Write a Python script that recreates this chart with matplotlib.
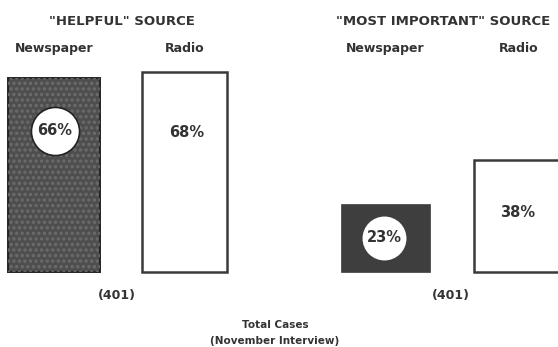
import matplotlib.pyplot as plt

# share of respondents naming each medium (November interview, 401 cases)
groups = ['"HELPFUL" SOURCE', '"MOST IMPORTANT" SOURCE']
media = ["Newspaper", "Radio"]
helpful = [66, 68]
most_important = [23, 38]
total_cases = [401, 401]

# layout in pixel-like units: x in px, y in percent
BASE_PX = 272          # pixel row of the bar baseline
PX_PER_PCT = 2.94
W, H = 558, 347

INK = "#333333"
FONT = "DejaVu Sans"


def ypx(p):
    """convert a pixel row to the y data unit (percent)"""
    return (BASE_PX - p) / PX_PER_PCT


fig = plt.figure(figsize=(W / 100, H / 100), dpi=100)
ax = fig.add_axes([0, 0, 1, 1])
ax.set_xlim(0, W)
ax.set_ylim(ypx(H), ypx(0))
ax.axis("off")

# bar centres / widths (px)
centres = [[54, 184.5], [385.5, 519]]
widths = [[92, 85], [89, 90]]
title_x = [122, 443]

plt.rcParams["hatch.linewidth"] = 1.6

for g, vals in enumerate([helpful, most_important]):
    cx, ww = centres[g], widths[g]
    # newspaper: dark bar (stippled in the first group)
    if g == 0:
        ax.bar(cx[0], vals[0], width=ww[0], color="#4e4e4e",
               edgecolor="#242424", linewidth=1.4, zorder=2)
        ax.bar(cx[0], vals[0], width=ww[0], fill=False, hatch="...",
               edgecolor="#6c6c6c", linewidth=0, zorder=3)
    else:
        ax.bar(cx[0], vals[0], width=ww[0], color="#3e3e3e",
               edgecolor="#3e3e3e", linewidth=0.5, zorder=2)
    # radio: open bar
    ax.bar(cx[1], vals[1], width=ww[1], color="white",
           edgecolor="#3a3a3a", linewidth=1.8, zorder=2)

    # headings
    ax.text(title_x[g], ypx(22), groups[g], ha="center", va="center",
            fontsize=9.5, fontweight="bold", color=INK, family=FONT)
    for i, m in enumerate(media):
        ax.text(cx[i], ypx(49), m, ha="center", va="center",
                fontsize=9, fontweight="bold", color=INK, family=FONT)

    ax.text((cx[0] + cx[1]) / 2 - 2 if g == 0 else (cx[0] + cx[1]) / 2 - 1,
            ypx(295), f"({total_cases[g]})", ha="center", va="center",
            fontsize=9, fontweight="bold", color=INK, family=FONT)

# white disc behind the newspaper percentages
ax.scatter([55], [ypx(131)], s=1200, color="white", edgecolor="#222222",
           linewidth=1.2, zorder=4)
ax.scatter([384], [ypx(238)], s=1000, color="white", edgecolor="white",
           linewidth=0, zorder=4)

ax.text(55, ypx(131), f"{helpful[0]}%", ha="center", va="center",
        fontsize=10.5, fontweight="bold", color=INK, family=FONT, zorder=5)
ax.text(187, ypx(133), f"{helpful[1]}%", ha="center", va="center",
        fontsize=10.5, fontweight="bold", color=INK, family=FONT, zorder=5)
ax.text(384, ypx(238), f"{most_important[0]}%", ha="center", va="center",
        fontsize=10.5, fontweight="bold", color=INK, family=FONT, zorder=5)
ax.text(518, ypx(213), f"{most_important[1]}%", ha="center", va="center",
        fontsize=10.5, fontweight="bold", color=INK, family=FONT, zorder=5)

ax.text(275, ypx(325), "Total Cases", ha="center", va="center",
        fontsize=7.5, fontweight="bold", color=INK, family=FONT)
ax.text(275, ypx(341), "(November Interview)", ha="center", va="center",
        fontsize=7.5, fontweight="bold", color=INK, family=FONT)

fig.savefig("out.png", dpi=100)
